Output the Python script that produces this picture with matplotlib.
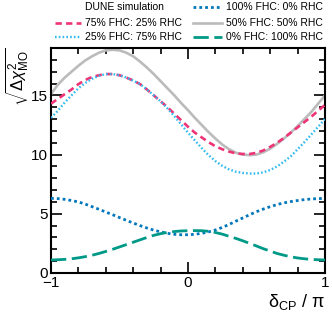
import numpy as np
import matplotlib
matplotlib.use("Agg")
import matplotlib.pyplot as plt
from matplotlib.lines import Line2D
from matplotlib.ticker import MultipleLocator

# delta_CP / pi sampling, step 0.05
dcp = np.round(np.linspace(-1.0, 1.0, 41), 2)

# sqrt(delta chi^2_MO) for each FHC:RHC run split
fhc50 = [15.1, 15.9, 16.5, 17.0, 17.5, 17.95, 18.3, 18.6, 18.8, 18.85,
         18.8, 18.6, 18.3, 17.85, 17.35, 16.8, 16.2, 15.6, 15.0, 14.35,
         13.75, 13.1, 12.5, 11.9, 11.35, 10.85, 10.45, 10.15, 10.0, 9.95,
         10.0, 10.2, 10.5, 10.9, 11.35, 11.85, 12.4, 13.0, 13.6, 14.3, 15.0]
fhc75 = [14.3, 14.7, 15.1, 15.5, 15.95, 16.3, 16.55, 16.7, 16.8, 16.8,
         16.7, 16.5, 16.25, 15.95, 15.5, 15.0, 14.5, 14.0, 13.45, 12.9,
         12.35, 11.85, 11.45, 11.05, 10.7, 10.45, 10.25, 10.1, 10.05, 10.05,
         10.15, 10.35, 10.65, 11.0, 11.4, 11.85, 12.3, 12.75, 13.2, 13.7, 14.2]
fhc25 = [13.1, 13.7, 14.4, 15.0, 15.6, 16.05, 16.4, 16.65, 16.8, 16.8,
         16.7, 16.5, 16.25, 15.95, 15.5, 15.0, 14.5, 13.9, 13.25, 12.55,
         11.85, 11.2, 10.55, 9.95, 9.45, 9.05, 8.75, 8.55, 8.45, 8.4,
         8.4, 8.5, 8.7, 9.0, 9.4, 9.85, 10.45, 11.05, 11.7, 12.35, 13.0]
fhc100 = [6.3, 6.28, 6.22, 6.12, 6.0, 5.82, 5.6, 5.38, 5.15, 4.92,
          4.68, 4.45, 4.22, 4.0, 3.8, 3.62, 3.47, 3.35, 3.27, 3.23,
          3.23, 3.27, 3.35, 3.47, 3.63, 3.85, 4.1, 4.38, 4.65, 4.92,
          5.18, 5.4, 5.6, 5.78, 5.92, 6.03, 6.12, 6.2, 6.25, 6.28, 6.3]
fhc0 = [1.1, 1.12, 1.15, 1.2, 1.28, 1.38, 1.5, 1.65, 1.82, 2.0,
        2.2, 2.4, 2.6, 2.8, 3.0, 3.18, 3.32, 3.43, 3.5, 3.55,
        3.57, 3.58, 3.57, 3.52, 3.42, 3.28, 3.1, 2.92, 2.72, 2.5,
        2.28, 2.05, 1.85, 1.65, 1.5, 1.37, 1.27, 1.2, 1.15, 1.12, 1.1]

labels = ["75% FHC: 25% RHC", "25% FHC: 75% RHC", "100% FHC: 0% RHC",
          "50% FHC: 50% RHC", "0% FHC: 100% RHC"]

plt.rcParams["font.family"] = ["Liberation Sans", "DejaVu Sans"]
plt.rcParams["mathtext.fontset"] = "custom"
plt.rcParams["mathtext.rm"] = "Liberation Sans"
plt.rcParams["mathtext.it"] = "Liberation Sans:italic"

W, H = 332, 321
fig = plt.figure(figsize=(W / 100, H / 100), dpi=100)
# axes rect: left 51px, right 325px, top 48px, bottom 273px
ax = fig.add_axes([51 / W, 1 - 273 / H, 274 / W, 225 / H])

series = [
    (fhc75, "#EE3377", (0, (2.4, 1.6)), 1.9, 3),
    (fhc25, "#33BBEE", (0, (0.7, 0.9)), 1.7, 3),
    (fhc100, "#0077BB", (0, (1.0, 1.1)), 2.0, 3),
    (fhc50, "#BBBBBB", "-", 1.9, 2),
    (fhc0, "#009988", (0, (5.5, 2.0)), 2.0, 3),
]
for (vals, col, ls, lw, z), lab in zip(series, labels):
    ax.plot(dcp, vals, color=col, linestyle=ls, linewidth=lw, label=lab, zorder=z)

ax.set_xlim(-1, 1)
ax.set_ylim(0, 19)
ax.xaxis.set_major_locator(MultipleLocator(1))
ax.xaxis.set_minor_locator(MultipleLocator(0.2))
ax.yaxis.set_major_locator(MultipleLocator(5))
ax.yaxis.set_minor_locator(MultipleLocator(1))
ax.tick_params(which="both", direction="in", top=True, right=True,
               width=1.2, labelsize=11)
ax.tick_params(which="major", length=8, pad=2)
ax.tick_params(which="minor", length=4)
for sp in ax.spines.values():
    sp.set_linewidth(1.5)
ax.set_xticks([-1, 0, 1])
ax.set_xticklabels(["\u22121", "0", "1"])

# axis titles, ROOT style (top-left / bottom-right)
fig.text(4 / W, 1 - 47 / H, r"$\sqrt{\Delta\chi^2_{\rm MO}}$", fontsize=12,
         rotation=90, ha="left", va="top")
fig.text(325 / W, 1 - 307 / H, "\u03b4$_{\\rm CP}$ / \u03c0", fontsize=13,
         ha="right", va="baseline")

# legend drawn by hand: (row y px, handle x0, handle x1, text x)
leg_rows = [7, 22.5, 37]
left_col = (55, 81, 85)
right_col = (193, 222, 226)
fig.text(left_col[2] / W, 1 - leg_rows[0] / H, "DUNE simulation",
         fontsize=7.5, va="center", ha="left")
slots = [(left_col, 1), (left_col, 2), (right_col, 0), (right_col, 1), (right_col, 2)]
for (vals, col, ls, lw, z), lab, (colpos, r) in zip(series, labels, slots):
    y = 1 - leg_rows[r] / H
    fig.add_artist(Line2D([colpos[0] / W, colpos[1] / W], [y, y], color=col,
                          linestyle=ls, linewidth=lw, transform=fig.transFigure))
    fig.text(colpos[2] / W, y, lab, fontsize=7.5, va="center", ha="left")

fig.savefig("out.png", dpi=100)
